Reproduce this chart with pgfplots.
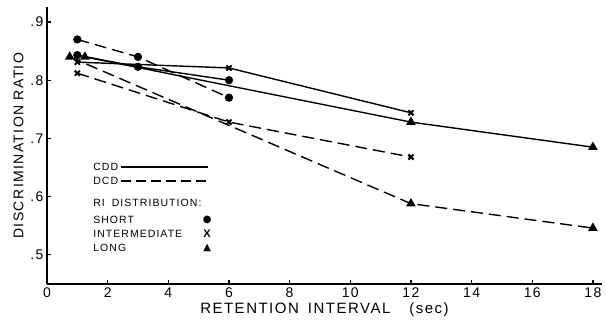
\documentclass[border=0pt]{standalone}
\usepackage{fontspec}
\setmainfont{Liberation Sans}[LetterSpace=10]
\newfontfamily\symfont{DejaVu Sans}
\usepackage{pgfplots}
\pgfplotsset{compat=1.18}
\begin{document}
\begin{tikzpicture}[x=1pt,y=1pt]
\path[use as bounding box] (-47,-40) rectangle (559,284);
\begin{axis}[
 scale only axis, width=555pt, height=276.6pt,
 xmin=0, xmax=18.3, ymin=0.45, ymax=0.925,
 axis lines*=left, axis line style={line width=1.5pt},
 tick align=inside, major tick length=4pt, tick style={line width=1.2pt,black},
 xtick={0,2,...,18}, xticklabels={0,2,4,6,8,10,12,14,16,18},
 ytick={0.5,0.6,0.7,0.8,0.9}, yticklabels={.5,.6,.7,.8,.9},
 tick label style={font=\fontsize{14}{14}\selectfont},
 ylabel style={font=\fontsize{14}{14}\selectfont},
 xlabel style={font=\fontsize{15}{15}\selectfont, yshift=2pt},
 xlabel={RETENTION\hspace{9pt}INTERVAL\hspace{19pt}(sec)},
 ylabel={DISCRIMINATION RATIO},
 clip=false,
 every axis plot/.append style={black, line width=1.4pt},
]
% CDD (solid)
\addplot[solid, mark=*, mark size=3.4pt] coordinates {(1,0.843) (3,0.823) (6,0.800)};
\addplot[solid, mark=x, mark size=3.6pt, mark options={line width=2pt}] coordinates {(1,0.831) (6,0.821) (12,0.744)};
\addplot[solid, mark=triangle*, mark size=4.2pt] coordinates {(1.25,0.840) (12,0.728) (18,0.685)};
% DCD (dashed)
\addplot[dash pattern=on 12pt off 6pt, mark=*, mark size=3.4pt, mark options={solid}] coordinates {(1,0.870) (3,0.840) (6,0.770)};
\addplot[dash pattern=on 12pt off 6pt, mark=x, mark size=3.6pt, mark options={solid,line width=2pt}] coordinates {(1,0.812) (6,0.728) (12,0.668)};
\addplot[dash pattern=on 12pt off 6pt, mark=triangle*, mark size=4.2pt, mark options={solid}] coordinates {(0.75,0.840) (12,0.588) (18,0.546)};
% legend
\begin{scope}[every node/.style={font=\fontsize{10.5}{10.5}\selectfont, anchor=west, inner sep=0pt}]
\node at (axis cs:1.52,0.651) {CDD};
\node at (axis cs:1.52,0.627) {DCD};
\node at (axis cs:1.52,0.589) {RI\hspace{7pt}DISTRIBUTION:};
\node at (axis cs:1.52,0.560) {SHORT};
\node at (axis cs:1.52,0.536) {INTERMEDIATE};
\node at (axis cs:1.52,0.512) {LONG};
\end{scope}
\draw[line width=1.4pt] (axis cs:2.45,0.651) -- (axis cs:5.31,0.651);
\draw[line width=1.4pt, dash pattern=on 10pt off 5pt] (axis cs:2.45,0.627) -- (axis cs:5.31,0.627);
\begin{scope}[every node/.style={anchor=center, inner sep=0pt}]
\node at (axis cs:5.28,0.560) {\symfont\fontsize{10}{10}\selectfont ●};
\node at (axis cs:5.28,0.536) {\bfseries\fontsize{11}{11}\selectfont X};
\node at (axis cs:5.28,0.512) {\symfont\fontsize{10}{10}\selectfont ▲};
\end{scope}
\end{axis}
\end{tikzpicture}
\end{document}
